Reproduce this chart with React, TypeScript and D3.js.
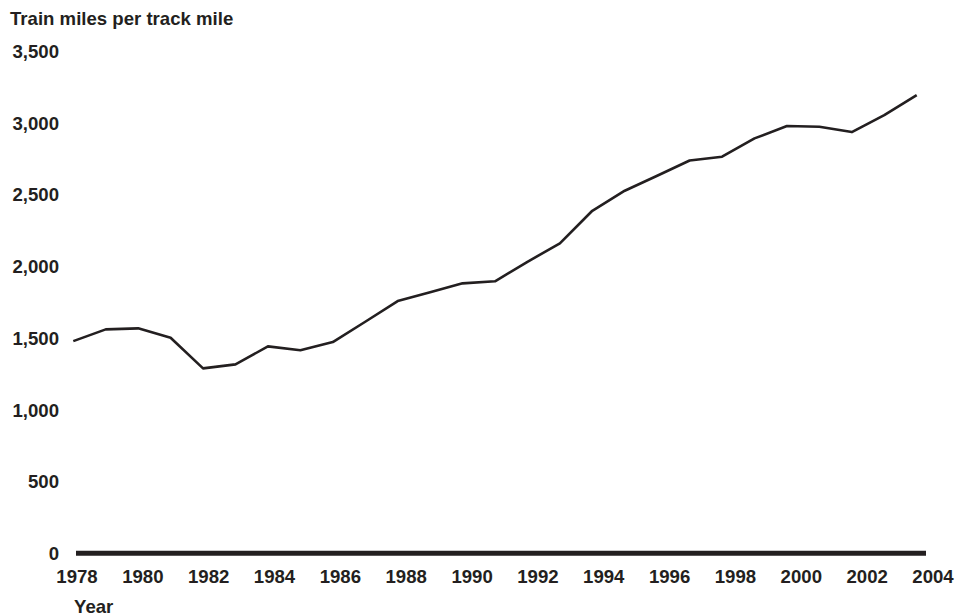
import * as React from 'react'
import { useEffect, useRef } from 'react'
import * as d3 from 'd3'

const years = [1978, 1979, 1980, 1981, 1982, 1983, 1984, 1985, 1986, 1987, 1988, 1989, 1990,
    1991, 1992, 1993, 1994, 1995, 1996, 1997, 1998, 1999, 2000, 2001, 2002, 2003, 2004]
const trainMiles = [1480, 1562, 1569, 1503, 1290, 1318, 1443, 1416, 1473, 1615, 1759, 1821, 1883,
    1897, 2033, 2162, 2389, 2529, 2633, 2740, 2766, 2894, 2980, 2975, 2938, 3056, 3196]
const yTicks = [0, 500, 1000, 1500, 2000, 2500, 3000, 3500]
const xTickYears = [1978, 1980, 1982, 1984, 1986, 1988, 1990, 1992, 1994, 1996, 1998, 2000, 2002, 2004]

const W = 970
const H = 615
const ink = '#231f20'
const font = '"Liberation Sans", Arial, Helvetica, sans-serif'
const fs = 18.6

export default function App() {
    const svgRef = useRef<SVGSVGElement | null>(null)

    useEffect(() => {
        const svg = d3.select(svgRef.current!)
        svg.selectAll('*').remove()

        const y = d3.scaleLinear().domain([0, 3500]).range([553.3, 51.5])
        // line points and printed labels sit on slightly different grids in the source
        const xLine = d3.scaleLinear().domain([1978, 2004]).range([73.3, 916.7])
        const xLabel = d3.scaleLinear().domain([1978, 2004]).range([77, 933])

        // title
        svg.append('text')
            .attr('x', 10).attr('y', 24.8)
            .attr('font-family', font).attr('font-size', fs).attr('font-weight', 'bold')
            .attr('fill', ink)
            .text('Train miles per track mile')

        // y tick labels
        svg.append('g').selectAll('text')
            .data(yTicks).enter().append('text')
            .attr('x', 59)
            .attr('y', d => y(d) + 6.6)
            .attr('text-anchor', 'end')
            .attr('font-family', font).attr('font-size', fs).attr('font-weight', 'bold')
            .attr('fill', ink)
            .text(d => d3.format(',')(d))

        // baseline
        svg.append('line')
            .attr('x1', 76).attr('x2', 926)
            .attr('y1', y(0)).attr('y2', y(0))
            .attr('stroke', ink).attr('stroke-width', 5)

        // x tick labels
        svg.append('g').selectAll('text')
            .data(xTickYears).enter().append('text')
            .attr('x', d => xLabel(d))
            .attr('y', 582.5)
            .attr('text-anchor', 'middle')
            .attr('font-family', font).attr('font-size', fs).attr('font-weight', 'bold')
            .attr('fill', ink)
            .text(d => d)

        svg.append('text')
            .attr('x', 74).attr('y', 612.5)
            .attr('font-family', font).attr('font-size', fs).attr('font-weight', 'bold')
            .attr('fill', ink)
            .text('Year')

        const line = d3.line<number>()
            .x((d, i) => xLine(years[i]))
            .y(d => y(d))

        svg.append('path')
            .datum(trainMiles)
            .attr('d', line)
            .attr('fill', 'none')
            .attr('stroke', ink)
            .attr('stroke-width', 2.6)
            .attr('stroke-linejoin', 'round')
    }, [])

    return (
        <svg ref={svgRef} width={W} height={H}
            style={{ position: 'absolute', left: 0, top: 0, background: '#fff' }} />
    )
}
